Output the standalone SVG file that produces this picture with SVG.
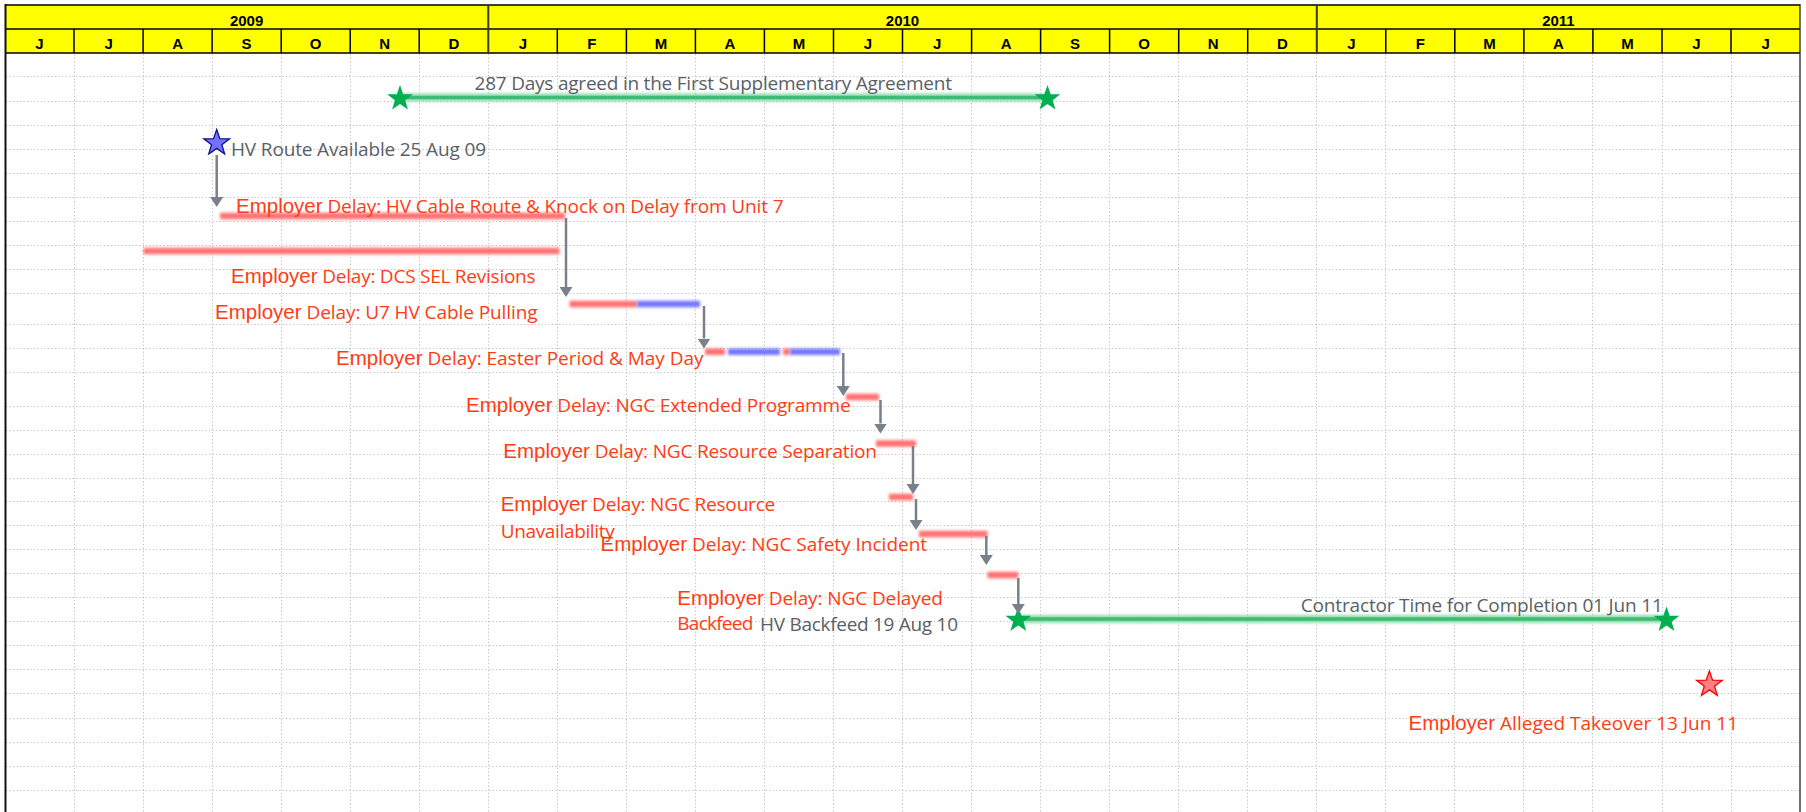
<svg xmlns="http://www.w3.org/2000/svg" width="1806" height="812" viewBox="0 0 1806 812">
<style>
  .grid { fill: none; stroke: #c2c2c2; stroke-width: 1; stroke-dasharray: 1.3 2.2; }
  .hdr { font-family: "Liberation Sans", Arial, sans-serif; font-weight: bold; font-size: 15px; fill: #000; text-anchor: middle; }
  .e { font-family: "Liberation Sans", Arial, sans-serif; font-size: 20.5px; fill: #ff3c14; }
  .d { font-family: "Open Sans", "Noto Sans", sans-serif; font-size: 19px; fill: #ff3c14; }
  .g { font-family: "Open Sans", "Noto Sans", sans-serif; font-size: 19px; fill: #5a5f66; }
  .bar { fill: none; stroke-width: 6.5; filter: url(#soft); }
  .red { stroke: #ff6f6f; }
  .blue { stroke: #7474ff; }
  .gglow { stroke: #8fdcae; stroke-width: 8; filter: url(#soft); }
  .gcore { stroke: #3dbb73; stroke-width: 3.5; filter: url(#soft2); }
  #connectors line { stroke: #78818b; stroke-width: 2.5; marker-end: url(#ah); }
  .gs { fill: #00b050; }
</style>
<defs>
  <filter id="soft" filterUnits="userSpaceOnUse" x="0" y="0" width="1806" height="812">
    <feGaussianBlur stdDeviation="1.4"/>
  </filter>
  <filter id="soft2" filterUnits="userSpaceOnUse" x="0" y="0" width="1806" height="812">
    <feGaussianBlur stdDeviation="0.6"/>
  </filter>
  <path id="star" d="M0,-13.5 L3.17,-4.37 L12.84,-4.17 L5.14,1.67 L7.94,10.92 L0,5.4 L-7.94,10.92 L-5.14,1.67 L-12.84,-4.17 L-3.17,-4.37 Z"/>
  <marker id="ah" viewBox="0 0 10 13" refX="0" refY="6.5" markerWidth="10" markerHeight="13" markerUnits="userSpaceOnUse" orient="auto">
    <path d="M0,0 L10,6.5 L0,13 Z" fill="#78818b"/>
  </marker>
</defs>

<rect x="0" y="0" width="1806" height="812" fill="#ffffff"/>

<!-- grid -->
<g id="grid">
  <path class="grid" d="M6,76.5H1799M6,101.5H1799M6,125.5H1799M6,149.5H1799M6,173.5H1799M6,197.5H1799M6,221.5H1799M6,245.5H1799M6,269.5H1799M6,293.5H1799M6,324.5H1799M6,348.5H1799M6,372.5H1799M6,406.5H1799M6,430.5H1799M6,454.5H1799M6,478.5H1799M6,501.5H1799M6,525.5H1799M6,549.5H1799M6,573.5H1799M6,597.5H1799M6,621.5H1799M6,645.5H1799M6,669.5H1799M6,693.5H1799M6,718.5H1799M6,742.5H1799M6,766.5H1799M6,790.5H1799"/>
  <path class="grid" d="M74.5,54V812M143.5,54V812M212.5,54V812M281.5,54V812M350.5,54V812M419.5,54V812M488.5,54V812M557.5,54V812M626.5,54V812M695.5,54V812M764.5,54V812M833.5,54V812M902.5,54V812M971.5,54V812M1040.5,54V812M1109.5,54V812M1178.5,54V812M1247.5,54V812M1316.5,54V812M1385.5,54V812M1454.5,54V812M1523.5,54V812M1592.5,54V812M1662.5,54V812M1731.5,54V812"/>
</g>

<!-- header -->
<g id="header">
  <rect x="5" y="5" width="1795" height="48" fill="#ffff00"/>
  <path d="M5,5H1800M5,29H1800M5,53H1800" stroke="#000" stroke-width="1.5" fill="none"/>
  <path d="M74,29V53M143.1,29V53M212.1,29V53M281.2,29V53M350.2,29V53M419.2,29V53M557.3,29V53M626.4,29V53M695.4,29V53M764.4,29V53M833.5,29V53M902.5,29V53M971.6,29V53M1040.6,29V53M1109.6,29V53M1178.7,29V53M1247.7,29V53M1385.8,29V53M1454.8,29V53M1523.9,29V53M1592.9,29V53M1662,29V53M1731,29V53" stroke="#000" stroke-width="1.5" fill="none"/>
  <path d="M488.3,5V53M1316.8,5V53" stroke="#3a3a1a" stroke-width="2" fill="none"/>
  <text class="hdr" x="246.6" y="26">2009</text>
  <text class="hdr" x="902.5" y="26">2010</text>
  <text class="hdr" x="1558.4" y="26">2011</text>
  <text class="hdr" x="39.5" y="48.5">J</text>
  <text class="hdr" x="108.6" y="48.5">J</text>
  <text class="hdr" x="177.6" y="48.5">A</text>
  <text class="hdr" x="246.6" y="48.5">S</text>
  <text class="hdr" x="315.7" y="48.5">O</text>
  <text class="hdr" x="384.7" y="48.5">N</text>
  <text class="hdr" x="453.8" y="48.5">D</text>
  <text class="hdr" x="522.8" y="48.5">J</text>
  <text class="hdr" x="591.9" y="48.5">F</text>
  <text class="hdr" x="660.9" y="48.5">M</text>
  <text class="hdr" x="729.9" y="48.5">A</text>
  <text class="hdr" x="799" y="48.5">M</text>
  <text class="hdr" x="868" y="48.5">J</text>
  <text class="hdr" x="937.1" y="48.5">J</text>
  <text class="hdr" x="1006.1" y="48.5">A</text>
  <text class="hdr" x="1075.1" y="48.5">S</text>
  <text class="hdr" x="1144.2" y="48.5">O</text>
  <text class="hdr" x="1213.2" y="48.5">N</text>
  <text class="hdr" x="1282.3" y="48.5">D</text>
  <text class="hdr" x="1351.3" y="48.5">J</text>
  <text class="hdr" x="1420.4" y="48.5">F</text>
  <text class="hdr" x="1489.4" y="48.5">M</text>
  <text class="hdr" x="1558.4" y="48.5">A</text>
  <text class="hdr" x="1627.5" y="48.5">M</text>
  <text class="hdr" x="1696.5" y="48.5">J</text>
  <text class="hdr" x="1765.6" y="48.5">J</text>
</g>

<!-- frame -->
<g id="frame">
  <line x1="5.5" y1="4" x2="5.5" y2="812" stroke="#111" stroke-width="2"/>
  <line x1="1800" y1="4" x2="1800" y2="812" stroke="#222" stroke-width="1.3"/>
</g>

<!-- nodes -->
<g id="n-first-supplementary">
  <line class="gglow" x1="400" y1="97.5" x2="1047.5" y2="97.5"/>
  <line class="gcore" x1="400" y1="97.5" x2="1047.5" y2="97.5"/>
  <use href="#star" class="gs" transform="translate(400,98.5)"/>
  <use href="#star" class="gs" transform="translate(1047.5,98.5)"/>
  <text class="g" x="474.5" y="89.5" textLength="477.5">287 Days agreed in the First Supplementary Agreement</text>
</g>

<g id="n-hv-route">
  <use href="#star" fill="#7272ff" stroke="#101088" stroke-width="1.3" transform="translate(216.7,143)"/>
  <text class="g" x="231" y="156" textLength="255">HV Route Available 25 Aug 09</text>
</g>

<g id="n-hv-cable-route">
  <line class="bar red" x1="220" y1="216" x2="565" y2="216"/>
  <text x="236" y="212.5"><tspan class="e">Employer</tspan><tspan class="d" textLength="461"> Delay: HV Cable Route &amp; Knock on Delay from Unit 7</tspan></text>
</g>

<g id="n-dcs-sel">
  <line class="bar red" x1="143.5" y1="251" x2="559.5" y2="251"/>
  <text x="231" y="283"><tspan class="e">Employer</tspan><tspan class="d" textLength="218"> Delay: DCS SEL Revisions</tspan></text>
</g>

<g id="n-u7-cable-pulling">
  <line class="bar red" x1="569.5" y1="304" x2="637" y2="304"/>
  <line class="bar blue" x1="637" y1="304" x2="700" y2="304"/>
  <text x="215" y="318.5"><tspan class="e">Employer</tspan><tspan class="d" textLength="236"> Delay: U7 HV Cable Pulling</tspan></text>
</g>

<g id="n-easter">
  <line class="bar red" x1="705" y1="351.7" x2="725" y2="351.7"/>
  <line class="bar blue" x1="728" y1="351.7" x2="780" y2="351.7"/>
  <line class="bar red" x1="783" y1="351.7" x2="790" y2="351.7"/>
  <line class="bar blue" x1="790" y1="351.7" x2="840" y2="351.7"/>
  <text x="336" y="365"><tspan class="e">Employer</tspan><tspan class="d" textLength="281"> Delay: Easter Period &amp; May Day</tspan></text>
</g>

<g id="n-ngc-extended">
  <line class="bar red" x1="846" y1="397" x2="879" y2="397"/>
  <text x="466" y="412"><tspan class="e">Employer</tspan><tspan class="d" textLength="298"> Delay: NGC Extended Programme</tspan></text>
</g>

<g id="n-ngc-separation">
  <line class="bar red" x1="876" y1="443.5" x2="916" y2="443.5"/>
  <text x="503.3" y="458"><tspan class="e">Employer</tspan><tspan class="d" textLength="287"> Delay: NGC Resource Separation</tspan></text>
</g>

<g id="n-ngc-unavailability">
  <line class="bar red" x1="889" y1="497" x2="913" y2="497"/>
  <text x="500.7" y="511"><tspan class="e">Employer</tspan><tspan class="d" textLength="188"> Delay: NGC Resource</tspan><tspan class="d" x="500.7" y="537.5" textLength="114">Unavailability</tspan></text>
</g>

<g id="n-ngc-safety">
  <line class="bar red" x1="919" y1="534" x2="987.5" y2="534"/>
  <text x="600.5" y="550.5"><tspan class="e">Employer</tspan><tspan class="d" textLength="240"> Delay: NGC Safety Incident</tspan></text>
</g>

<g id="n-ngc-backfeed">
  <line class="bar red" x1="987.5" y1="575" x2="1018.3" y2="575"/>
  <text x="677.3" y="605"><tspan class="e">Employer</tspan><tspan class="d" textLength="179"> Delay: NGC Delayed</tspan><tspan class="d" x="677.3" y="630" textLength="76">Backfeed</tspan></text>
</g>

<g id="n-completion">
  <line class="gglow" x1="1018.3" y1="619" x2="1666.5" y2="619"/>
  <line class="gcore" x1="1018.3" y1="619" x2="1666.5" y2="619"/>
  <use href="#star" class="gs" transform="translate(1018.3,620)"/>
  <use href="#star" class="gs" transform="translate(1666.5,620)"/>
  <text class="g" x="760" y="631" textLength="198">HV Backfeed 19 Aug 10</text>
  <text class="g" x="1300.8" y="612" textLength="362">Contractor Time for Completion 01 Jun 11</text>
</g>

<g id="n-takeover">
  <use href="#star" fill="#ff7f85" stroke="#ff0000" stroke-width="1.3" transform="translate(1709.4,684.5)"/>
  <text x="1408.5" y="730"><tspan class="e">Employer</tspan><tspan class="d" textLength="243"> Alleged Takeover 13 Jun 11</tspan></text>
</g>

<!-- connectors -->
<g id="connectors">
  <line x1="216.7" y1="155" x2="216.7" y2="197"/>
  <line x1="566" y1="218" x2="566" y2="287"/>
  <line x1="704" y1="306" x2="704" y2="338.5"/>
  <line x1="843.3" y1="353" x2="843.3" y2="386"/>
  <line x1="880.5" y1="400" x2="880.5" y2="423.5"/>
  <line x1="913" y1="446" x2="913" y2="484"/>
  <line x1="916" y1="499" x2="916" y2="520"/>
  <line x1="986.3" y1="536" x2="986.3" y2="555"/>
  <line x1="1018.3" y1="578" x2="1018.3" y2="604"/>
</g>
</svg>
